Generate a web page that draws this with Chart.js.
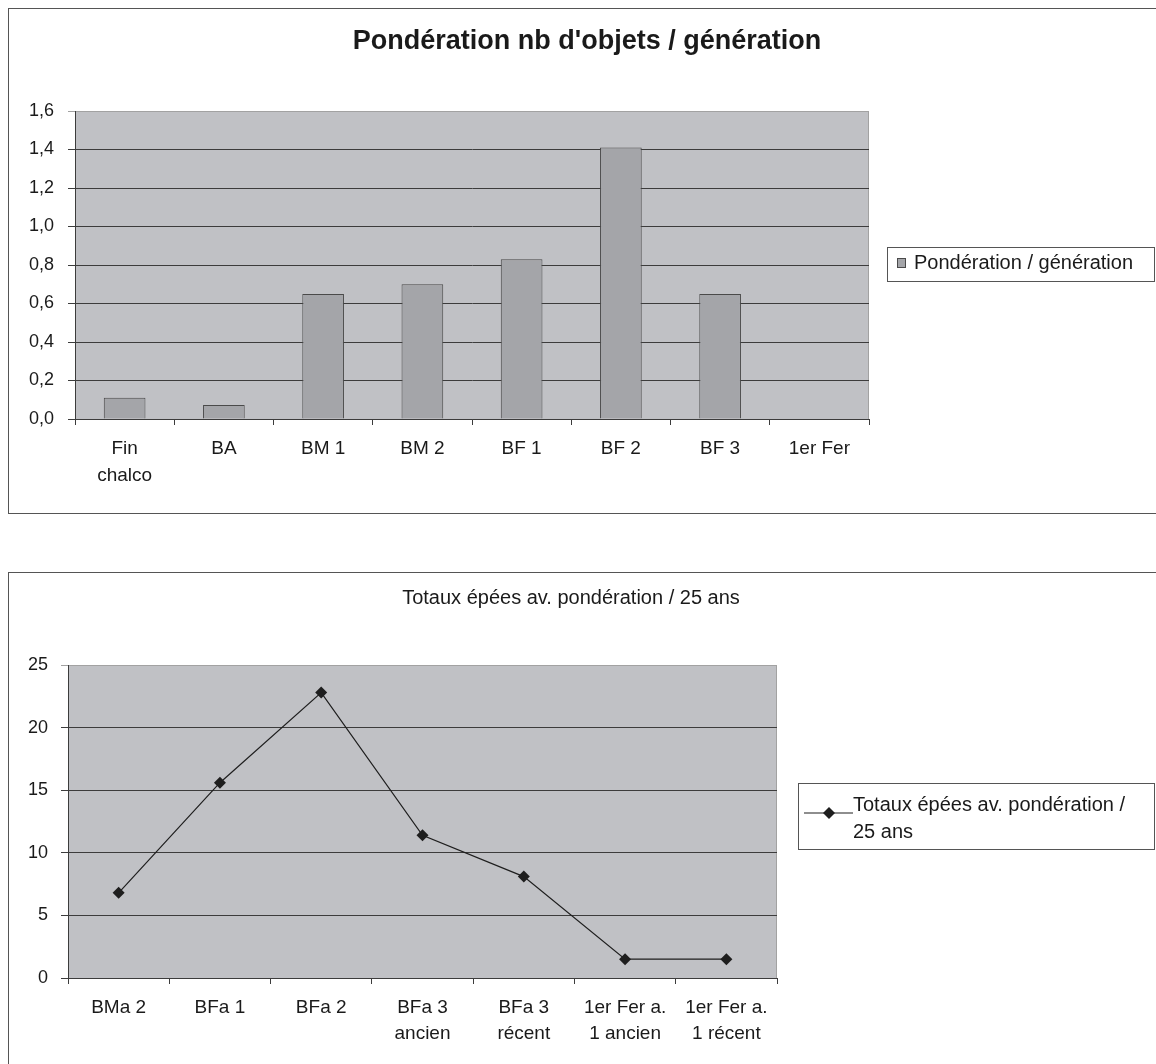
<!DOCTYPE html>
<html>
<head>
<meta charset="utf-8">
<script src="https://cdn.jsdelivr.net/npm/chart.js@4.4.1/dist/chart.umd.min.js"></script>
<style>
  body { margin: 0; background: #fff; overflow: hidden; }
  .box { position: absolute; left: 8px; border: 1px solid #555; background: #fff; }
  #box1 { top: 8px; }
  #box2 { top: 572px; }
  canvas { display: block; }
</style>
</head>
<body>
<div class="box" id="box1"><canvas id="chart1" width="1156" height="504"></canvas></div>
<div class="box" id="box2"><canvas id="chart2" width="1156" height="500"></canvas></div>
<script>
// --- data ---
const periodLabels = [["Fin", "chalco"], "BA", "BM 1", "BM 2", "BF 1", "BF 2", "BF 3", "1er Fer"];
const weighting = [0.11, 0.073, 0.65, 0.70, 0.83, 1.41, 0.65, 0];
const weightTicks = { min: 0, max: 1.6, step: 0.2 };

const swordLabels = ["BMa 2", "BFa 1", "BFa 2", ["BFa 3", "ancien"], ["BFa 3", "récent"],
  ["1er Fer a.", "1 ancien"], ["1er Fer a.", "1 récent"]];
const swordTotals = [6.8, 15.6, 22.8, 11.4, 8.1, 1.5, 1.5];
const swordTicks = { min: 0, max: 25, step: 5 };

const title1 = "Pondération nb d'objets / génération";
const title2 = "Totaux épées av. pondération / 25 ans";
const series1 = "Pondération / génération";
const series2 = "Totaux épées av. pondération / 25 ans";

Chart.defaults.font.family = "'Liberation Sans', Arial, sans-serif";
Chart.defaults.color = "#1a1a1a";

const plotBg = "#c0c1c5";
const gridDark = "#3c3c3c";
const plotEdge = "#a2a2a2";

function wrap(ctx, text, maxW) {
  const words = text.split(" ");
  const lines = [];
  let cur = "";
  words.forEach(w => {
    const t = cur ? cur + " " + w : w;
    if (ctx.measureText(t).width > maxW && cur) {
      lines.push(cur);
      cur = w;
    } else {
      cur = t;
    }
  });
  if (cur) lines.push(cur);
  return lines;
}

// plot background, title and boxed legend, drawn the old spreadsheet way
const boxDeco = {
  id: "boxDeco",
  beforeDraw(chart, args, opts) {
    const { ctx, chartArea: a } = chart;
    ctx.save();
    ctx.fillStyle = plotBg;
    ctx.fillRect(a.left, a.top, a.right - a.left, a.bottom - a.top);
    ctx.strokeStyle = plotEdge;
    ctx.lineWidth = 1;
    ctx.strokeRect(a.left + 0.5, a.top + 0.5, a.right - a.left - 1, a.bottom - a.top);
    ctx.restore();
  },
  afterDraw(chart, args, opts) {
    const ctx = chart.ctx;
    const ds = chart.data.datasets[0];
    ctx.save();
    ctx.fillStyle = "#1a1a1a";
    ctx.font = opts.titleFont;
    ctx.textAlign = "center";
    ctx.textBaseline = "middle";
    ctx.fillText(opts.title, opts.titleX, opts.titleY);

    const L = opts.legend;
    ctx.strokeStyle = "#555";
    ctx.lineWidth = 1;
    ctx.strokeRect(L.x + 0.5, L.y + 0.5, L.w, L.h);

    if (chart.config.type === "bar") {
      ctx.fillStyle = ds.backgroundColor;
      ctx.fillRect(L.markX, L.markY - 5, 9, 10);
      ctx.strokeStyle = ds.borderColor;
      ctx.strokeRect(L.markX + 0.5, L.markY - 4.5, 8, 9);
    } else {
      ctx.strokeStyle = ds.borderColor;
      ctx.lineWidth = ds.borderWidth;
      ctx.beginPath();
      ctx.moveTo(L.markX - 25, L.markY);
      ctx.lineTo(L.markX + 24, L.markY);
      ctx.stroke();
      ctx.fillStyle = ds.pointBackgroundColor;
      const r = 6;
      ctx.beginPath();
      ctx.moveTo(L.markX, L.markY - r);
      ctx.lineTo(L.markX + r, L.markY);
      ctx.lineTo(L.markX, L.markY + r);
      ctx.lineTo(L.markX - r, L.markY);
      ctx.closePath();
      ctx.fill();
    }

    ctx.fillStyle = "#1a1a1a";
    ctx.font = opts.legendFont;
    ctx.textAlign = "left";
    const lines = wrap(ctx, ds.label, L.textW);
    lines.forEach((ln, i) => ctx.fillText(ln, L.textX, L.textY + i * L.lineH));
    ctx.restore();
  }
};

function yGridColor(max) {
  return c => (c.tick && c.tick.value === max) ? plotEdge : gridDark;
}

new Chart(document.getElementById("chart1"), {
  type: "bar",
  data: {
    labels: periodLabels,
    datasets: [{
      label: series1,
      data: weighting,
      backgroundColor: "#a4a5a9",
      borderColor: "#4a4a4a",
      borderWidth: 1,
      barPercentage: 0.42,
      categoryPercentage: 1.0
    }]
  },
  options: {
    responsive: false,
    animation: false,
    layout: { padding: { top: 102, right: 296, bottom: 24, left: 0 } },
    plugins: {
      legend: { display: false },
      tooltip: { enabled: false },
      boxDeco: {
        title: title1, titleFont: "bold 27px 'Liberation Sans', Arial, sans-serif",
        titleX: 578, titleY: 33,
        legendFont: "20px 'Liberation Sans', Arial, sans-serif",
        legend: { x: 878, y: 238, w: 267, h: 34, markX: 888, markY: 254,
          textX: 905, textY: 254, textW: 250, lineH: 27 }
      }
    },
    scales: {
      x: {
        grid: { drawOnChartArea: false, tickLength: 6, color: gridDark },
        border: { color: gridDark },
        ticks: { font: { size: 19, lineHeight: 1.42 }, padding: 10, maxRotation: 0, autoSkip: false },
        afterFit: s => { s.height = 70; }
      },
      y: {
        min: weightTicks.min, max: weightTicks.max,
        grid: { tickLength: 7, color: yGridColor(weightTicks.max) },
        border: { color: gridDark },
        ticks: {
          stepSize: weightTicks.step, padding: 14, font: { size: 18 },
          callback: v => v.toFixed(1).replace(".", ",")
        },
        afterFit: s => { s.width = 66; }
      }
    }
  },
  plugins: [boxDeco]
});

new Chart(document.getElementById("chart2"), {
  type: "line",
  data: {
    labels: swordLabels,
    datasets: [{
      label: series2,
      data: swordTotals,
      borderColor: "#1e1e1e",
      borderWidth: 1.2,
      tension: 0,
      pointStyle: "rectRot",
      pointRadius: 6,
      pointBackgroundColor: "#1e1e1e",
      pointBorderColor: "#1e1e1e",
      pointBorderWidth: 0
    }]
  },
  options: {
    responsive: false,
    animation: false,
    layout: { padding: { top: 92, right: 388, bottom: 25, left: 0 } },
    plugins: {
      legend: { display: false },
      tooltip: { enabled: false },
      boxDeco: {
        title: title2, titleFont: "20px 'Liberation Sans', Arial, sans-serif",
        titleX: 562, titleY: 25,
        legendFont: "20px 'Liberation Sans', Arial, sans-serif",
        legend: { x: 789, y: 210, w: 356, h: 66, markX: 820, markY: 240,
          textX: 844, textY: 232, textW: 290, lineH: 27 }
      }
    },
    scales: {
      x: {
        offset: true,
        grid: { offset: true, drawOnChartArea: false, tickLength: 6, color: gridDark },
        border: { color: gridDark },
        ticks: { font: { size: 19, lineHeight: 1.37 }, padding: 11, maxRotation: 0, autoSkip: false },
        afterFit: s => { s.height = 70; }
      },
      y: {
        min: swordTicks.min, max: swordTicks.max,
        grid: { tickLength: 7, color: yGridColor(swordTicks.max) },
        border: { color: gridDark },
        ticks: { stepSize: swordTicks.step, padding: 13, font: { size: 18 } },
        afterFit: s => { s.width = 59; }
      }
    }
  },
  plugins: [boxDeco]
});
</script>
</body>
</html>
